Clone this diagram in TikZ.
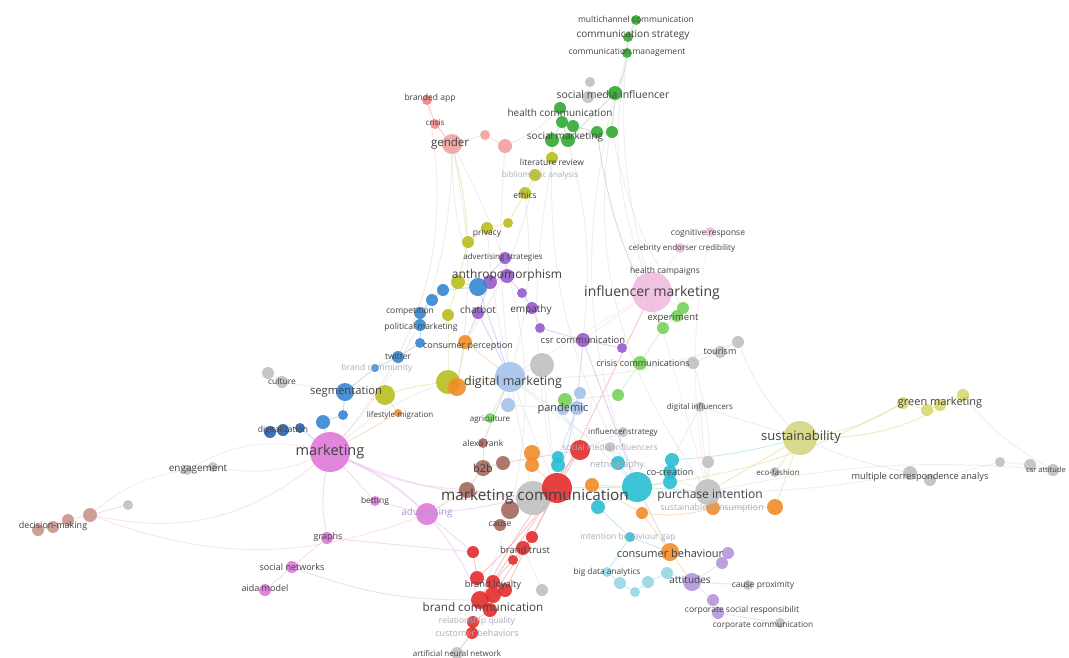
\documentclass[tikz,border=0pt]{standalone}
\usepackage{fontspec}
\setmainfont{Open Sans}
\usetikzlibrary{backgrounds}
\definecolor{cgreen}{RGB}{50,170,50}
\definecolor{cred}{RGB}{228,45,45}
\definecolor{csalmon}{RGB}{240,160,160}
\definecolor{cyel}{RGB}{185,190,30}
\definecolor{cpurp}{RGB}{150,90,205}
\definecolor{cblue}{RGB}{55,135,210}
\definecolor{cdblue}{RGB}{40,100,175}
\definecolor{clblue}{RGB}{165,195,235}
\definecolor{corange}{RGB}{240,140,40}
\definecolor{ccyan}{RGB}{40,190,210}
\definecolor{clcyan}{RGB}{150,215,230}
\definecolor{cbrown}{RGB}{165,105,95}
\definecolor{cmag}{RGB}{222,120,218}
\definecolor{cpink}{RGB}{240,188,222}
\definecolor{clgreen}{RGB}{120,210,90}
\definecolor{cgray}{RGB}{192,192,192}
\definecolor{csust}{RGB}{215,215,130}
\definecolor{cgm}{RGB}{215,218,110}
\definecolor{ctan}{RGB}{200,150,140}
\definecolor{clav}{RGB}{180,150,220}
\definecolor{ctext}{RGB}{65,65,65}
\definecolor{cfaint}{RGB}{170,172,185}
\definecolor{cfaintm}{RGB}{185,150,205}
\tikzset{
  bub/.style={circle, inner sep=0pt, draw=none, fill opacity=0.9},
  lab/.style={inner sep=0pt, text=ctext},
  flab/.style={inner sep=0pt, text=cfaint},
  edge/.style={line width=0.9pt, draw opacity=0.6}
}
\begin{document}
\begin{tikzpicture}[x=1pt,y=-1pt]
\useasboundingbox (0,0) rectangle (1069,657);
\begin{pgfonlayer}{background}
\fill[white] (0,0) rectangle (1069,657);
\end{pgfonlayer}
% circles
\foreach \n/\x/\y/\r/\cl in {
 g1/636/20/5/cgreen, g2/628/37/5/cgreen, g3/627/53/5/cgreen, gr1/590/82/5/cgray, gr2/588/97/6/cgray,
 g4/615/93/7/cgreen, g5/560/108/6/cgreen, g6/562/122/6/cgreen, g7/573/126/6/cgreen, g8/552/140/7/cgreen,
 g9/568/140/7/cgreen, g10/597/132/6/cgreen, g11/612/132/6/cgreen,
 s1/427/100/5/cred!60, s2/435/124/5/cred!55, s3/452/144/10/csalmon, s4/485/135/5/csalmon, s5/505/146/7/csalmon,
 y1/552/158/6/cyel, y2/535/175/6/cyel, y3/525/193/6/cyel, y4/508/223/5/cyel, y5/487/228/6/cyel, y6/468/242/6/cyel,
 y7/458/282/7/cyel, y8/448/315/6/cyel, y9/385/395/10/cyel, y10/448/382/12/cyel,
 p1/505/258/6/cpurp, p2/490/282/7/cpurp, p3/507/276/7/cpurp, p4/478/313/6/cpurp, p5/522/293/5/cpurp,
 p6/532/308/6/cpurp, p7/540/328/5/cpurp, p8/583/340/7/cpurp, p9/622/348/5/cpurp,
 b1/478/287/9/cblue, b2/443/290/6/cblue, b3/432/300/6/cblue, b4/420/313/6/cblue, b5/420/325/6/cblue,
 b6/420/343/5/cblue, b7/398/357/6/cblue, b8/375/368/4/cblue, b9/345/392/9/cblue, b10/343/415/5/cblue,
 b11/323/422/7/cblue, b12/270/432/6/cdblue, b13/283/430/6/cdblue, b14/300/428/5/cdblue,
 o1/465/342/7/corange, o2/457/387/9/corange, o3/398/413/4/corange, o4/532/453/8/corange, o5/532/465/7/corange,
 o6/592/485/7/corange, o7/642/513/6/corange, o8/713/508/7/corange, o9/775/507/8/corange, o10/670/552/9/corange,
 lb1/510/377/15/clblue, lb2/508/405/7/clblue, lb3/580/393/6/clblue, lb4/577/408/7/clblue, lb5/563/409/6/clblue,
 gy1/542/365/12/cgray, gy2/268/373/6/cgray, gy3/282/382/6/cgray, gy4/187/470/5/cgray, gy5/213/467/5/cgray,
 gy6/128/505/5/cgray, gy7/693/363/6/cgray, gy8/720/352/6/cgray, gy9/738/342/6/cgray, gy10/700/407/5/cgray,
 gy11/623/432/5/cgray, gy12/708/462/6/cgray, gy13/775/472/5/cgray, gy14/708/492/13/cgray, gy15/533/498/17/cgray,
 gy16/542/590/6/cgray, gy17/457/653/6/cgray, gy18/748/585/5/cgray, gy19/780/623/5/cgray,
 gy21/910/473/7/cgray, gy22/930/480/6/cgray, gy23/1000/462/5/cgray, gy24/1030/465/6/cgray, gy25/1053/470/6/cgray,
 gy26/610/447/5/cgray,
 lg1/640/363/7/clgreen, lg2/683/308/6/clgreen, lg3/677/316/6/clgreen, lg4/663/328/6/clgreen, lg5/618/395/6/clgreen,
 lg6/490/418/5/clgreen, lg7/565/400/7/clgreen,
 pk1/652/292/20/cpink, pk2/680/248/5/cpink, pk3/710/232/5/cpink,
 m1/330/452/20/cmag, m2/375/501/5/cmag, m3/427/514/11/cmag, m4/327/538/6/cmag, m5/292/567/6/cmag, m6/265/590/6/cmag,
 br1/483/443/5/cbrown, br2/483/468/8/cbrown, br3/503/463/7/cbrown, br4/467/490/8/cbrown, br5/510/510/9/cbrown,
 br6/500/525/6/cbrown,
 r1/580/450/10/cred, r2/557/488/15/cred, r3/532/537/6/cred, r4/523/548/7/cred, r5/513/560/5/cred,
 r6/473/552/6/cred, r7/477/578/7/cred, r8/493/582/7/cred, r9/480/600/9/cred, r10/493/595/8/cred,
 r11/490/610/7/cred, r12/473/622/6/cred, r13/472/633/6/cred, r14/505/590/7/cred,
 c1/558/457/6/ccyan, c2/558/465/7/ccyan, c3/618/463/7/ccyan, c4/672/460/7/ccyan, c5/670/472/7/ccyan,
 c6/670/482/7/ccyan, c7/637/487/15/ccyan, c8/598/507/7/ccyan, c9/630/537/5/ccyan,
 lc1/607/572/5/clcyan, lc2/620/583/6/clcyan, lc3/635/592/5/clcyan, lc4/648/582/6/clcyan, lc5/667/573/6/clcyan,
 lv1/728/553/6/clav, lv2/722/563/6/clav, lv3/692/582/9/clav, lv4/713/600/6/clav, lv5/718/613/6/clav,
 su1/800/438/17/csust,
 gm1/903/403/6/cgm, gm2/927/410/6/cgm, gm3/940/405/6/cgm, gm4/963/395/6/cgm,
 t1/38/530/6/ctan, t2/53/527/6/ctan, t3/68/520/6/ctan, t4/90/515/7/ctan}
 \node[bub, fill=\cl, minimum size={2*\r pt}] (\n) at (\x,\y) {};
% edges
\begin{pgfonlayer}{background}
\foreach \ea/\eb/\ec/\ed in {
 g1/g2/cgreen/0, g2/g3/cgreen/0, g3/g4/cgreen/10, g4/g11/cgreen/0, g4/g9/cgreen/0, g5/g6/cgreen/0, g6/g8/cgreen/0,
 g6/g9/cgreen/0, g7/g10/cgreen/0, g8/g9/cgreen/0, g9/g10/cgreen/0, g10/g11/cgreen/0, g4/gr2/cgray/0, gr1/gr2/cgray/0,
 g3/pk1/cgray/-15, g11/lg2/cgray/-10, g9/p8/cgray/10, g8/y1/cyel/0, g5/s5/csalmon/10,
 s1/s2/cred/0, s2/s3/cred/0, s3/s4/csalmon/0, s4/s5/csalmon/0, s3/m1/cgray/20, s3/b1/cgray/-10, s3/y6/cyel/5, s3/r9/cgray/25,
 y1/y2/cyel/0, y2/y3/cyel/0, y3/y4/cyel/0, y4/y5/cyel/0, y5/y6/cyel/0, y6/y7/cyel/0, y7/b1/cyel/0, y7/y8/cyel/0,
 y3/lb1/cgray/10, y5/r2/cgray/-10, y8/y10/cyel/0, y9/y10/cyel/5, y10/lb1/cyel/0, y10/m1/cgray/-10,
 p1/p3/cpurp/0, p2/p3/cpurp/0, p2/p4/cpurp/0, p3/p5/cpurp/0, p5/p6/cpurp/0, p6/p7/cpurp/0, p7/p8/cpurp/0, p8/p9/cpurp/0,
 p4/o1/cpurp/0, p8/r2/cpurp/5, p4/lb1/cpurp/0, p1/b1/cpurp/0,
 b1/b2/cblue/0, b2/b3/cblue/0, b3/b4/cblue/0, b4/b5/cblue/0, b5/b6/cblue/0, b6/b7/cblue/0, b7/b8/cblue/0, b8/b9/cblue/0,
 b9/b10/cblue/0, b10/b11/cblue/0, b11/m1/cblue/0, b12/b13/cblue/0, b13/b14/cblue/0, b14/m1/cblue/0, b9/y9/cyel/0,
 b1/lb1/cblue/0, b9/gy3/cgray/0,
 o1/o2/corange/0, o2/lb1/corange/0, o3/m1/corange/0, o3/y9/corange/0, o4/o5/corange/0, o5/r2/corange/0, o6/c7/corange/0,
 o7/o10/corange/0, o8/o9/corange/0, o8/gy14/corange/0, o9/su1/cyel/0, o10/lv3/corange/0, o10/c7/corange/0, o6/o7/corange/0,
 o7/o8/corange/-10, o1/lb1/corange/0,
 gy2/gy3/cgray/0, gy4/gy5/cgray/0, gy5/m1/cgray/-15, gy4/m1/cgray/20, gy6/t4/ctan/0, t1/t2/ctan/0, t2/t3/ctan/0,
 t3/t4/ctan/0, t4/m1/csalmon/-25, t4/m3/csalmon/-20,
 pk1/pk2/cpink/0, pk2/pk3/cpink/0, pk1/lg2/cpink/0, pk1/r2/cred/0, pk1/lb1/cpink/0, pk1/gy14/cpink/0, pk1/p8/cpink/0,
 lg2/lg3/clgreen/0, lg3/lg4/clgreen/0, lg4/lg1/clgreen/0, lg1/lg5/clgreen/0, lg5/lg7/clgreen/0, lg6/lb1/clgreen/0,
 gy7/lg1/cgray/0, gy8/gy9/cgray/0, gy8/gy7/cgray/0, gy10/c4/cgray/0, gy11/r1/cgray/0, gy26/c3/cgray/0, gy9/lb1/cgray/10,
 m1/m2/cmag/0, m2/m3/cmag/0, m3/r6/cmag/0, m1/m4/cmag/-10, m4/m5/cmag/0, m5/m6/cmag/0, m1/m3/cmag/10, m3/r2/cmag/-5,
 m5/r9/cmag/-10, m4/r6/cmag/0, m1/gy15/cmag/-10,
 br1/br2/cbrown/0, br2/br3/cbrown/0, br2/br4/cbrown/0, br4/m3/cbrown/0, br4/gy15/cbrown/0, br5/br6/cbrown/0,
 br5/r2/cbrown/0, br3/r1/cbrown/0, br1/lb1/cbrown/0,
 r1/r2/cred/0, r2/r3/cred/0, r3/r4/cred/0, r4/r5/cred/0, r5/r8/cred/0, r6/r7/cred/0, r7/r8/cred/0, r8/r10/cred/0,
 r9/r10/cred/0, r10/r11/cred/0, r11/r12/cred/0, r12/r13/cred/0, r13/gy17/cred/0, r2/r9/cred/0, r1/r9/cred/-5,
 r2/r14/cred/0, r14/r10/cred/0, r3/r10/cred/0, r2/r7/cred/5, r4/gy16/cgray/0,
 c1/c2/ccyan/0, c2/r2/ccyan/0, c3/c7/ccyan/0, c4/c5/ccyan/0, c5/c6/ccyan/0, c6/c7/ccyan/0, c7/gy14/ccyan/0, c7/c8/ccyan/0,
 c8/c9/ccyan/0, c9/o10/ccyan/0, c7/r2/ccyan/0, lc1/lc2/ccyan/0, lc2/lc3/ccyan/0, lc3/lc4/ccyan/0, lc4/lc5/ccyan/0,
 lc5/lv3/ccyan/0, c9/lc1/ccyan/0, c1/lb4/ccyan/0,
 lv1/lv2/clav/0, lv2/lv3/clav/0, lv3/lv4/clav/0, lv4/lv5/clav/0, lv5/gy19/clav/0, lv3/gy18/clav/0, lv1/o10/clav/0,
 su1/gm1/cyel/-10, gm1/gm2/cyel/0, gm2/gm3/cyel/0, gm3/gm4/cyel/0, su1/gy13/cyel/0, su1/gy14/cyel/0, su1/gy21/cgray/-5,
 gy21/gy22/cgray/0, gy22/gy23/cgray/0, gy23/gy24/cgray/0, gy24/gy25/cgray/0, su1/c4/ccyan/5, su1/gy10/cgray/0,
 gy12/gy14/cgray/0, gy14/gy15/cgray/0, gy15/r2/cgray/0, gy15/lb1/cgray/0, gy1/lb1/cgray/0, gy1/r2/cgray/0,
 lb1/lb2/clblue/0, lb2/lb5/clblue/0, lb3/lb4/clblue/0, lb4/lb5/clblue/0, lb5/r1/clblue/0, gm4/gy25/cgray/-10,
 gy9/su1/cgray/-10, gm1/c7/cyel/10,
 g3/gy14/cgray/-25, g4/o10/cgray/-20, g2/pk1/cgray/-10, s1/m1/csalmon/25, s3/o2/cgray/10, s5/lb1/cgray/-5,
 g8/c7/cgray/-15, y1/r2/cgray/-10, pk3/gy14/cpink/-10, gy21/gy14/cgray/5, gm4/su1/cyel/15, m1/br4/cmag/-10,
 m1/r9/cmag/20, gy4/t4/cgray/-15, lb1/c7/clblue/5, lb1/gy14/cgray/-10, p8/c7/cpurp/0, gy10/gy14/cgray/0,
 gy7/gy14/cgray/10, g10/lg4/cgreen/-10, y2/o1/cgray/10, gy25/gy14/cgray/-8}
 \draw[edge, draw=\ec!45] (\ea) to[bend left=\ed] (\eb);
\end{pgfonlayer}
% labels
\foreach \n/\x/\y/\s/\t in {
 L1/636/19/8.5/multichannel communication, L2/633/35/10/communication strategy, L3/627/52/8.5/communication management,
 L4/613/95/10.5/social media influencer, L5/560/113/10/health communication, L6/565/137/10/social marketing,
 L7/450/144/11.5/gender, L8/430/98/8.5/branded app, L9/435/123/8/crisis, L10/552/162/8.5/literature review,
 L12/525/195/8.5/ethics, L13/487/233/8.5/privacy, L14/503/257/8/advertising strategies, L15/507/275/12/anthropomorphism,
 L16/478/310/10/chatbot, L17/410/311/8.5/competition, L18/531/310/10/empathy, L19/421/327/8.5/political marketing,
 L20/468/346/9/consumer perception, L21/398/356/8.5/twitter, L23/583/340/9.5/csr communication,
 L24/643/363/9/crisis communications, L25/720/351/9/tourism, L26/652/293/14/influencer marketing,
 L27/665/271/8.5/health campaigns, L28/682/248/8/celebrity endorser credibility, L29/708/233/8.5/cognitive response,
 L30/673/318/9.5/experiment, L31/513/382/12.5/digital marketing, L32/282/381/8.5/culture, L33/346/392/11.2/segmentation,
 L34/400/415/8/lifestyle migration, L35/283/430/8.5/digitalization, L36/330/452/14.5/marketing, L37/198/469/10/engagement,
 L38/490/419/8/agriculture, L39/483/443/8.5/alexa rank, L40/483/468/11/b2b, L41/375/501/8.5/betting,
 L43/53/526/9/decision-making, L44/328/537/9/graphs, L45/292/567/9/social networks, L46/265/588/9/aida model,
 L47/563/409/11/pandemic, L48/700/407/8/digital influencers, L49/623/432/8/influencer strategy,
 L52/670/472/9/co-creation, L53/778/472/8/eco-fashion, L54/535/497/15.3/marketing communication,
 L55/710/495/12/purchase intention, L57/500/524/8.5/cause, L58/525/550/9.5/brand trust,
 L60/670/553/11/consumer behaviour, L61/607/572/8.3/big data analytics, L62/690/580/10/attitudes,
 L63/763/585/8.5/cause proximity, L64/742/610/8.5/corporate social responsibilit, L65/763/625/8.3/corporate communication,
 L66/493/585/9.3/brand loyalty, L67/483/607/11.7/brand communication, L70/457/653/8/artificial neural network,
 L71/940/403/11/green marketing, L72/801/437/13/sustainability, L73/920/477/9.2/multiple correspondence analys,
 L74/1046/470/7.5/csr attitude}
 \node[lab, font=\fontsize{\s}{\s}\selectfont] (\n) at (\x,\y) {\t};
\foreach \n/\x/\y/\s/\t in {
 F1/540/175/8/bibliometric analysis, F2/377/368/8.5/brand community, F4/610/447/8.5/social media influencers,
 F5/628/537/8.5/intention behaviour gap, F6/712/508/8.8/sustainable consumption, F7/477/621/8.5/relationship quality,
 F8/477/633/9/customer behaviors, F9/617/465/9/netnography}
 \node[flab, font=\fontsize{\s}{\s}\selectfont] (\n) at (\x,\y) {\t};
\node[flab, text=cfaintm, font=\fontsize{10}{10}\selectfont] (F3) at (427,513) {advertising};
\end{tikzpicture}
\end{document}
